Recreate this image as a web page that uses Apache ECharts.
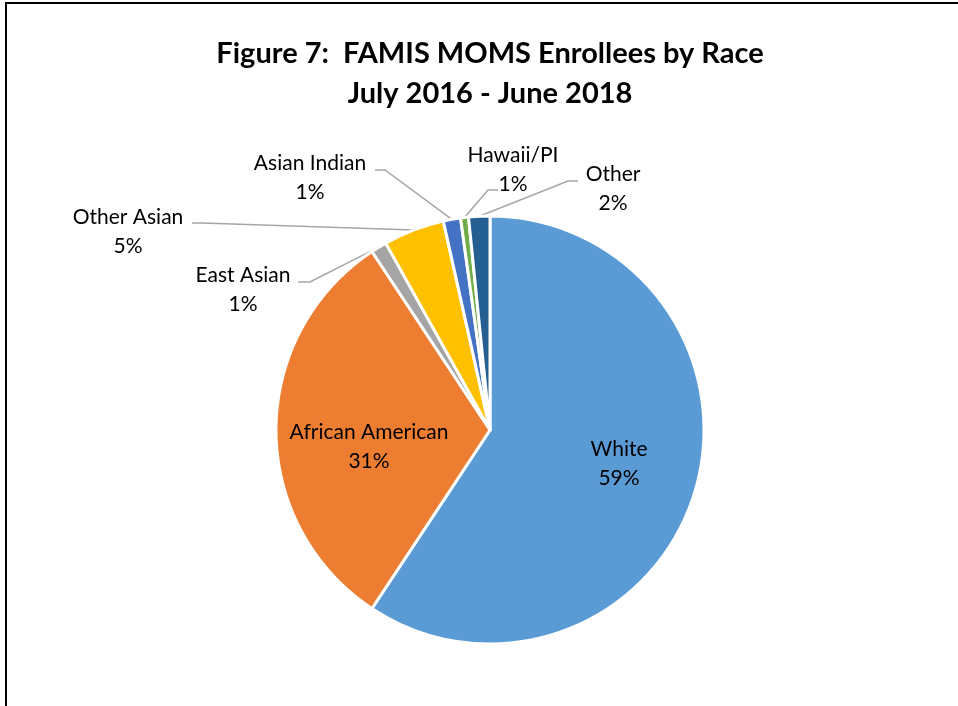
<!DOCTYPE html>
<html>
<head>
<meta charset="utf-8">
<script src="https://cdn.jsdelivr.net/npm/echarts@6/dist/echarts.min.js"></script>
<style>
  html, body { margin: 0; padding: 0; background: #fff; }
  #chart { width: 958px; height: 706px; }
</style>
</head>
<body>
<div id="chart"></div>
<script>
// race categories, clockwise from 12 o'clock
var races = ['White', 'African American', 'East Asian', 'Other Asian', 'Asian Indian', 'Hawaii/PI', 'Other'];
// share of enrollees (percent)
var shares = [59.3, 31.4, 1.2, 4.6, 1.3, 0.6, 1.6];
var colors = ['#5B9BD5', '#ED7D31', '#A5A5A5', '#FFC000', '#4472C4', '#70AD47', '#255E91'];

// where each label sits (block centre) and the elbow/end of its leader line
var labelSpots = [
    { x: 619, y: 464, inside: true },
    { x: 369, y: 447, inside: true },
    { x: 243, y: 290, elbow: [310, 282], end: [298, 282] },
    { x: 128, y: 232, elbow: [202, 223], end: [192, 223] },
    { x: 310, y: 178, elbow: [385, 170], end: [375, 170] },
    { x: 513, y: 170, elbow: [488, 190], end: [498, 190] },
    { x: 613, y: 189, elbow: [568, 181], end: [578, 181] }
];

var chart = echarts.init(document.getElementById('chart'));

var pieData = races.map(function (name, i) {
    return {
        name: name,
        value: shares[i],
        itemStyle: { color: colors[i] },
        labelLine: { show: !labelSpots[i].inside }
    };
});

chart.setOption({
    animation: false,
    title: {
        text: 'Figure 7:  FAMIS MOMS Enrollees by Race\nJuly 2016 - June 2018',
        left: 485,
        top: 29,
        textAlign: 'center',
        textStyle: {
            fontFamily: 'Lato',
            fontWeight: 'bold',
            fontSize: 29,
            lineHeight: 40,
            color: '#000'
        }
    },
    graphic: [{
        type: 'polyline',
        shape: { points: [[6, 706], [6, 3], [958, 3]] },
        style: { stroke: '#000', lineWidth: 2, fill: null }
    }],
    series: [{
        type: 'pie',
        center: [490, 430],
        radius: 214,
        startAngle: 90,
        clockwise: true,
        percentPrecision: 0,
        itemStyle: { borderColor: '#fff', borderWidth: 3 },
        label: {
            formatter: '{b}\n{d}%',
            fontFamily: 'Lato',
            fontSize: 21,
            lineHeight: 29,
            color: '#000',
            align: 'center'
        },
        labelLine: {
            lineStyle: { color: '#A6A6A6', width: 1.5 }
        },
        labelLayout: function (params) {
            var s = labelSpots[params.dataIndex];
            var out = { x: s.x, y: s.y, align: 'center', verticalAlign: 'middle' };
            if (!s.inside && params.labelLinePoints) {
                var p0 = params.labelLinePoints[0];
                out.labelLinePoints = [p0, s.elbow, s.end];
            }
            return out;
        },
        data: pieData
    }]
});
</script>
</body>
</html>
